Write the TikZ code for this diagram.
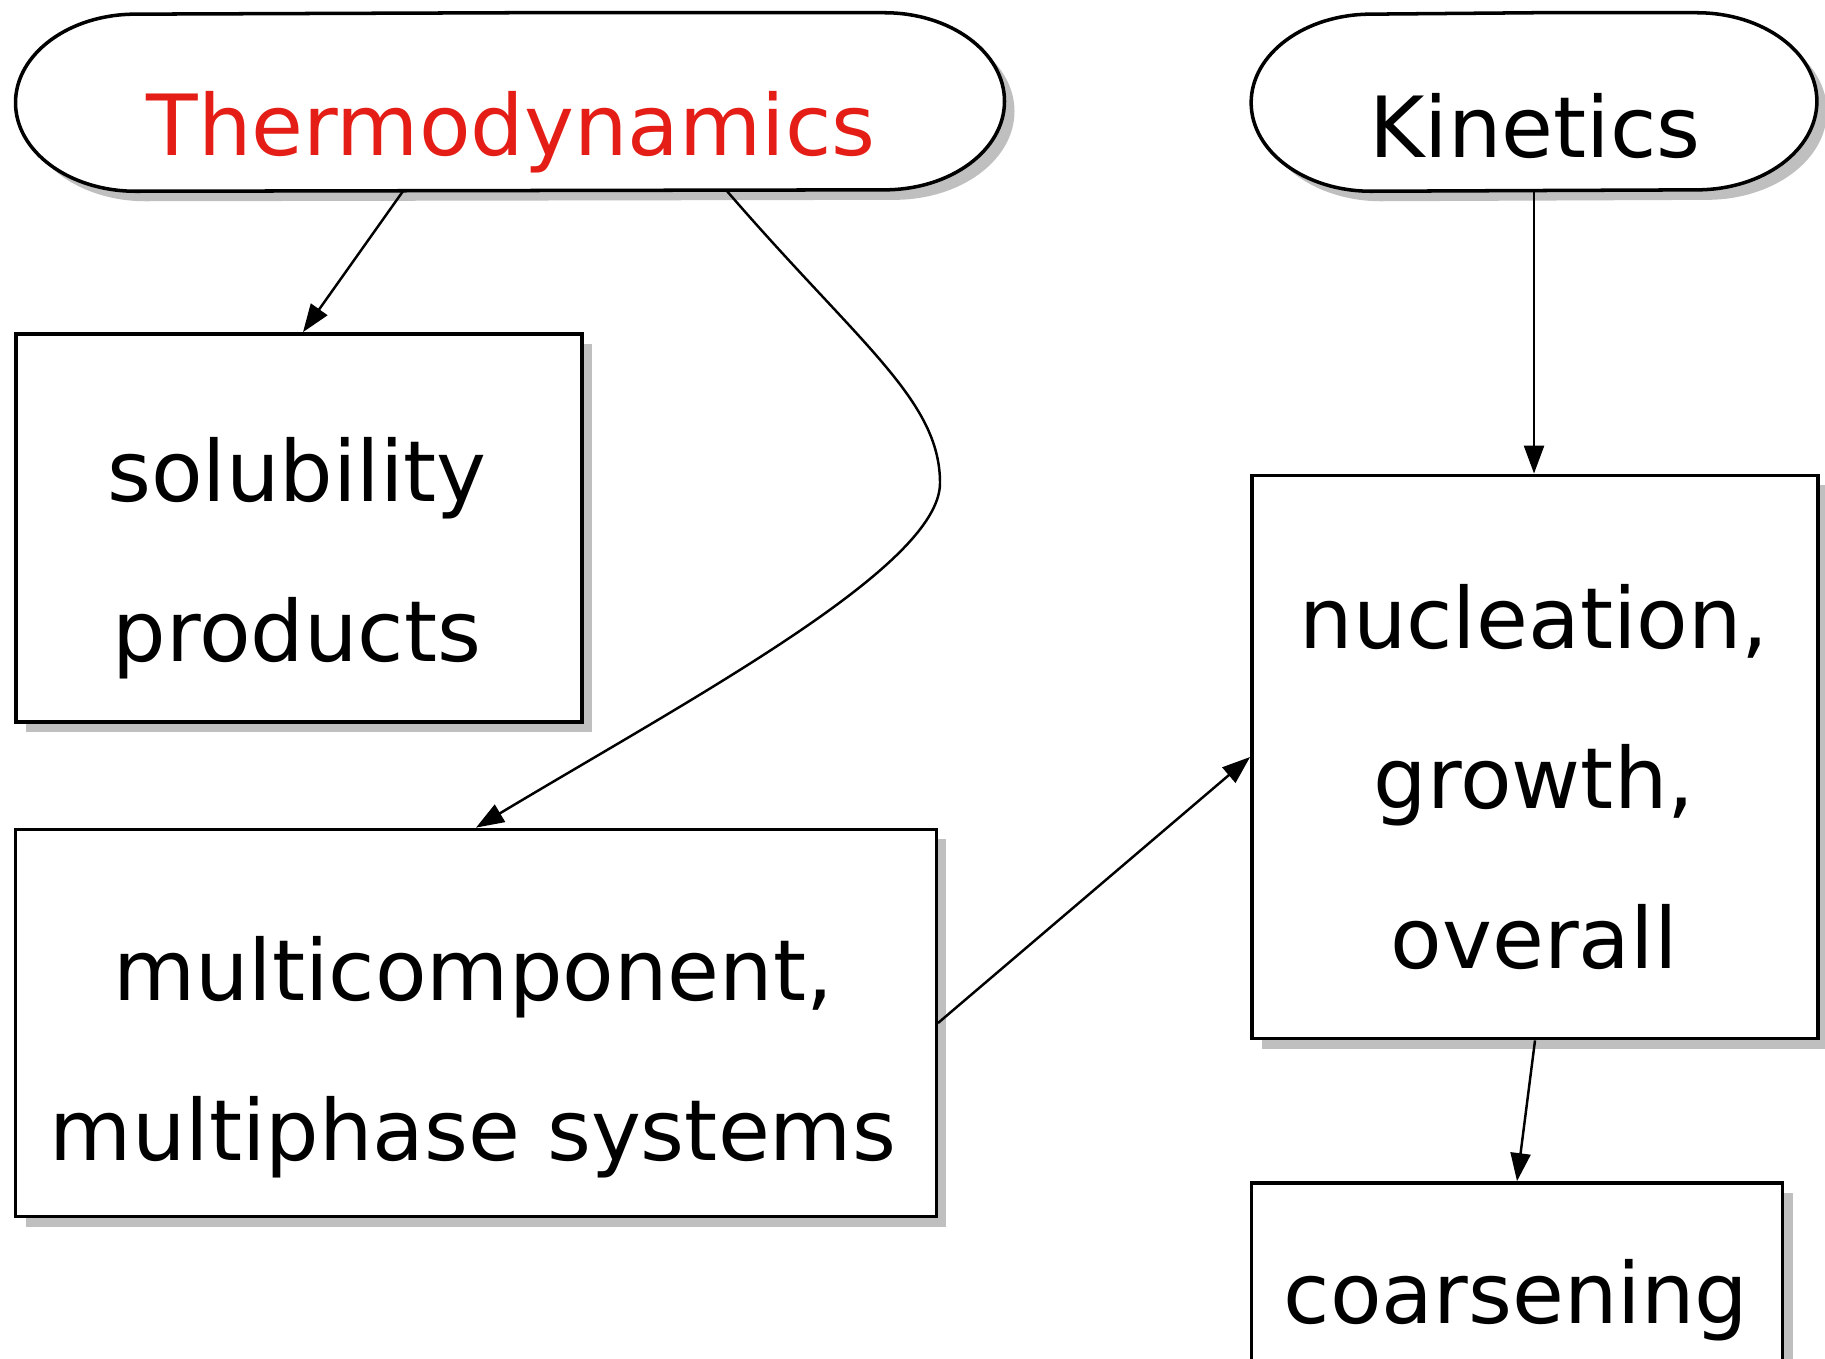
\documentclass[tikz,border=0pt]{standalone}
\usepackage{fontspec}
\setmainfont{DejaVu Sans}
\usetikzlibrary{shadows,arrows.meta}
\definecolor{thermored}{RGB}{228,30,22}

\begin{document}
\begin{tikzpicture}[x=0.01cm,y=-0.01cm]
        \tikzstyle{every node}=[inner sep=0pt,font=\fontsize{24}{45.5}\selectfont]
        \tikzstyle{frame}=[draw=none,rectangle]
        \tikzstyle{rim}=[draw=black,line width=1pt,fill=white,drop shadow={shadow xshift=1mm,shadow yshift=-1mm,opacity=0.25,fill=black}]
        \tikzstyle{word}=[align=center]
        \tikzstyle{link}=[line width=0.7pt,-{Triangle[length=2.8mm,width=2mm]}]
        \clip (0,0) rectangle (1825,1358);
        \fill[white] (0,0) rectangle (1825,1358);
        % the two oval headings
        \node[frame,minimum width=9.87cm,minimum height=1.77cm] (thermo) at (510,102) {};
        \node[frame,minimum width=5.64cm,minimum height=1.77cm] (kin) at (1534,102) {};
        \foreach \n in {thermo,kin}
            \draw[rim] (\n.north) -- ([xshift=-1.2cm]\n.north east)
                arc[start angle=90,end angle=-90,x radius=1.2cm,y radius=0.885cm]
                -- ([xshift=1.2cm]\n.south west)
                arc[start angle=270,end angle=90,x radius=1.2cm,y radius=0.885cm] -- cycle;
        % boxes
        \node[rim,minimum width=5.66cm,minimum height=3.88cm] (sol) at (299,528) {};
        \node[rim,minimum width=9.20cm,minimum height=3.87cm] (multi) at (476,1023) {};
        \node[rim,minimum width=5.66cm,minimum height=5.63cm] (nucl) at (1535,757) {};
        \node[rim,minimum width=5.31cm,minimum height=2.6cm] (coars) at (1517,1313) {};
        % texts
        \node[anchor=base,text=thermored] (thermot) at (511,156) {Thermodynamics};
        \node[anchor=base] (kint) at (1535,158) {Kinetics};
        \node[word] (solt) at (297,558) {solubility\\products};
        \node[word] (multit) at (473,1057) {multicomponent,\\multiphase systems};
        \node[word] (nuclt) at (1534,777) {nucleation,\\growth,\\overall};
        \node[anchor=base] (coarst) at (1516,1323) {coarsening};
        % arrows
        \coordinate (bend) at (940,483);
        \draw[link] ([xshift=-1.07cm]thermo.south) -- ([xshift=0.04cm]sol.north);
        \draw[link] ([xshift=2.17cm]thermo.south) .. controls (859,344) and (940,400) .. (bend)
            .. controls (940,566) and (694,697) .. (multi.north);
        \draw[link] (kin.south) -- (kin.south |- nucl.north);
        \draw[link] (multi.east) -- (nucl.west);
        \draw[link] (nucl.south) -- (coars.north);
\end{tikzpicture}
\end{document}
